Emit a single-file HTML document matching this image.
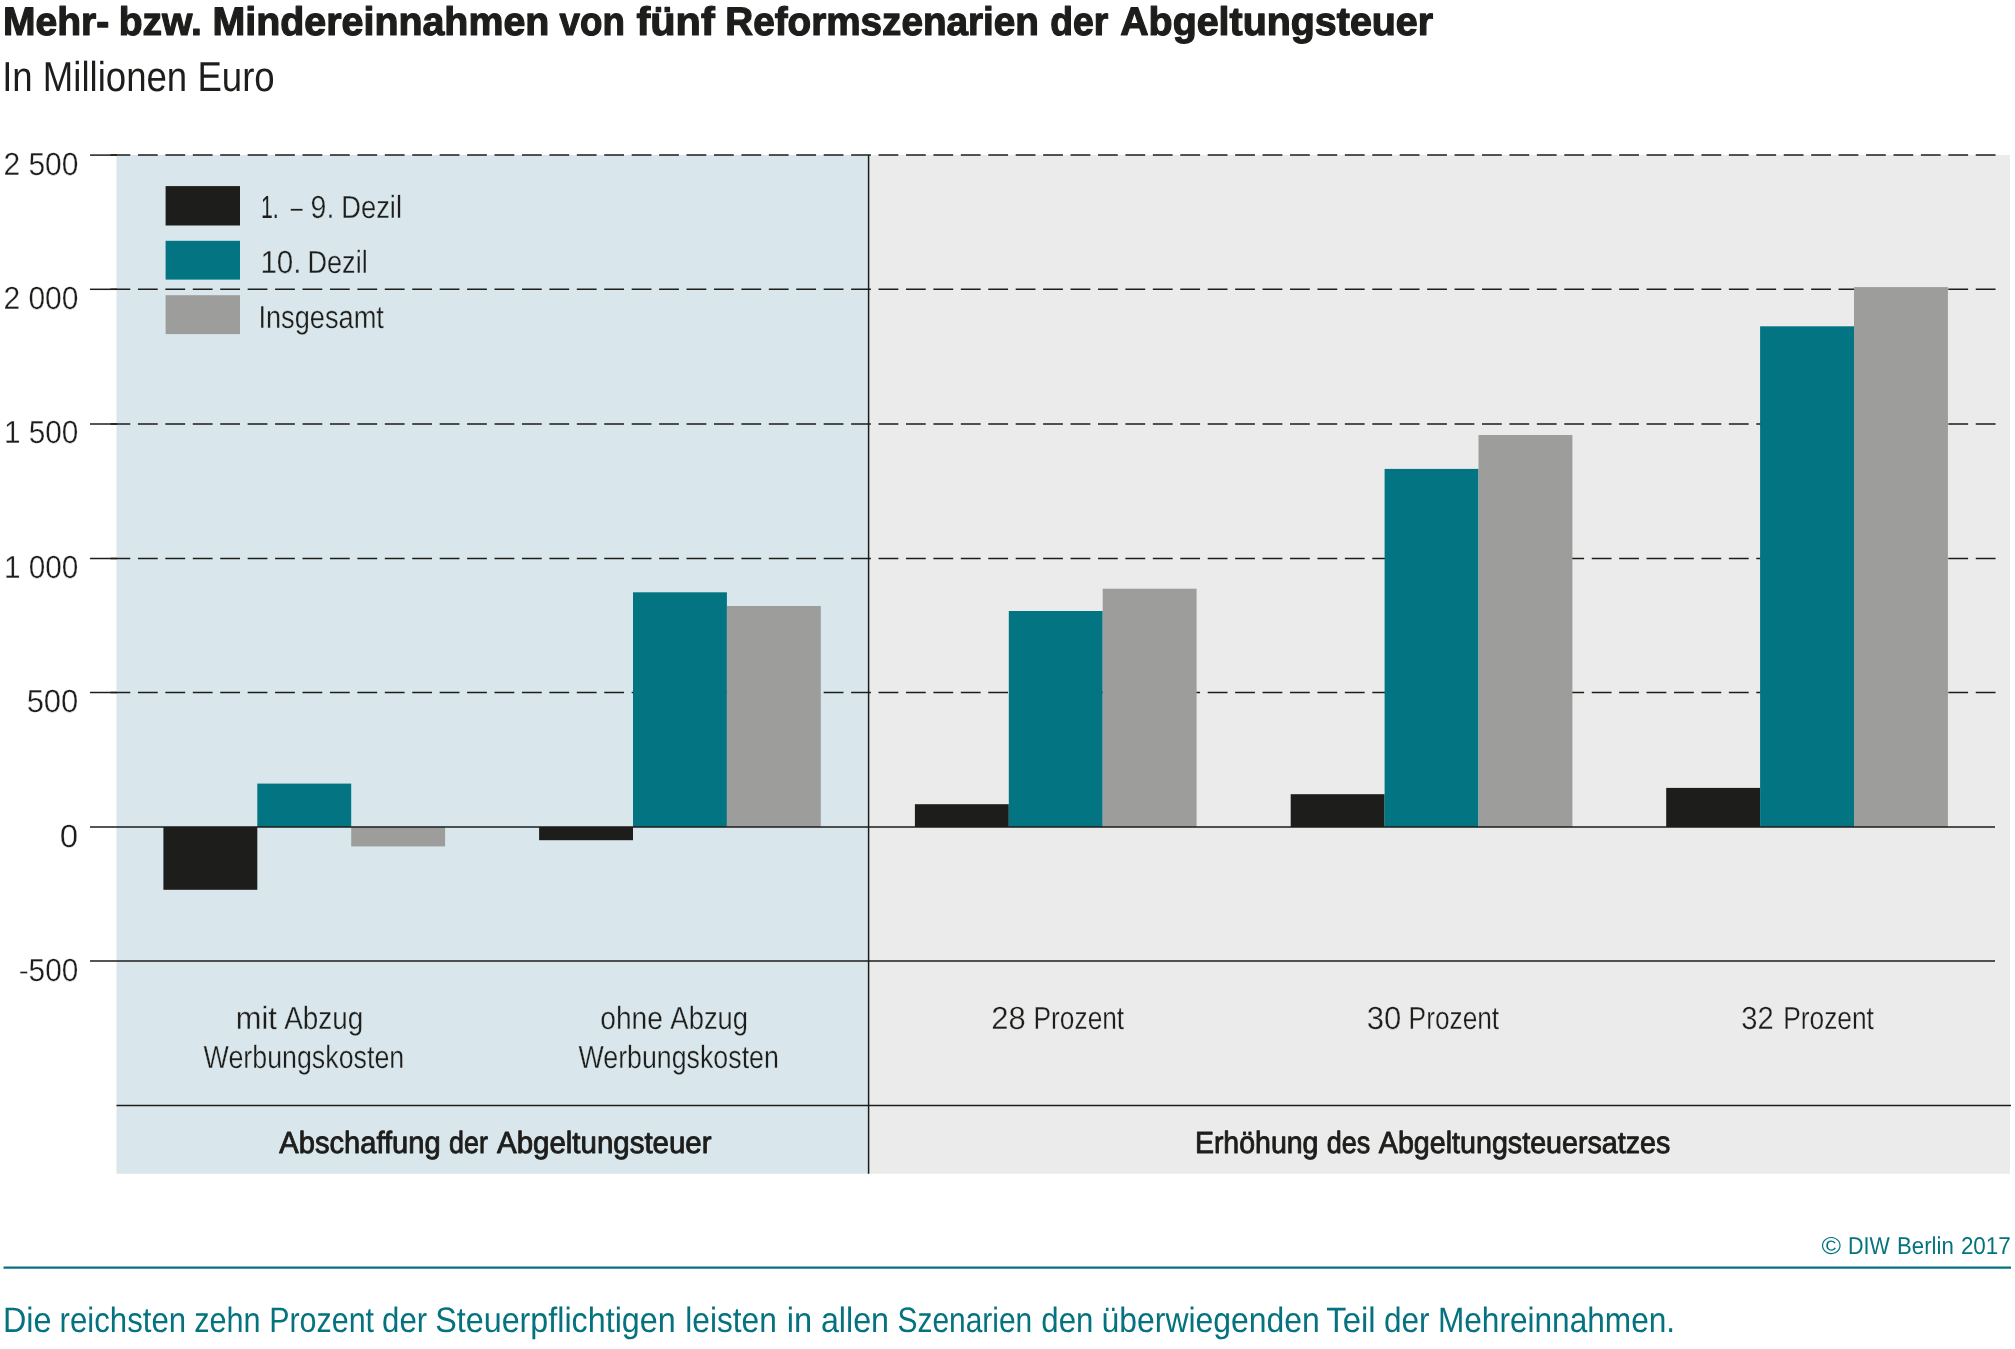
<!DOCTYPE html>
<html lang="de"><head><meta charset="utf-8"><title>Mehr- bzw. Mindereinnahmen von fünf Reformszenarien der Abgeltungsteuer</title>
<style>html,body{margin:0;padding:0;background:#fff}body{width:2015px;height:1349px;overflow:hidden}svg{display:block;will-change:transform;text-rendering:geometricPrecision}text{font-family:"Liberation Sans",sans-serif;fill:#1d1d1b;stroke-linejoin:round}.b{font-weight:bold}.t{fill:#05737f}</style></head><body>
<svg width="2015" height="1349" viewBox="0 0 2015 1349">
<rect x="0" y="0" width="2015" height="1349" fill="#fff"/>
<rect x="116.5" y="155" width="752" height="1018.8" fill="#d9e7ec"/>
<rect x="868.5" y="155" width="1141.5" height="1018.8" fill="#ebebeb"/>
<line x1="110.5" y1="155.1" x2="1996" y2="155.1" stroke="#1d1d1b" stroke-width="1.5" stroke-dasharray="19.8 7.63"/>
<line x1="90" y1="155.1" x2="117" y2="155.1" stroke="#1d1d1b" stroke-width="1.5"/>
<line x1="110.5" y1="289.3" x2="1996" y2="289.3" stroke="#1d1d1b" stroke-width="1.5" stroke-dasharray="19.8 7.63"/>
<line x1="90" y1="289.3" x2="117" y2="289.3" stroke="#1d1d1b" stroke-width="1.5"/>
<line x1="110.5" y1="424.0" x2="1996" y2="424.0" stroke="#1d1d1b" stroke-width="1.5" stroke-dasharray="19.8 7.63"/>
<line x1="90" y1="424.0" x2="117" y2="424.0" stroke="#1d1d1b" stroke-width="1.5"/>
<line x1="110.5" y1="558.5" x2="1996" y2="558.5" stroke="#1d1d1b" stroke-width="1.5" stroke-dasharray="19.8 7.63"/>
<line x1="90" y1="558.5" x2="117" y2="558.5" stroke="#1d1d1b" stroke-width="1.5"/>
<line x1="110.5" y1="692.5" x2="1996" y2="692.5" stroke="#1d1d1b" stroke-width="1.5" stroke-dasharray="19.8 7.63"/>
<line x1="90" y1="692.5" x2="117" y2="692.5" stroke="#1d1d1b" stroke-width="1.5"/>
<rect x="163.4" y="827.0" width="93.9" height="62.8" fill="#1d1d1b"/>
<rect x="257.3" y="783.6" width="93.9" height="43.4" fill="#037482"/>
<rect x="351.2" y="827.0" width="93.9" height="19.4" fill="#9d9d9c"/>
<rect x="539.1" y="827.0" width="93.9" height="13.2" fill="#1d1d1b"/>
<rect x="633.0" y="592.3" width="93.9" height="234.7" fill="#037482"/>
<rect x="726.9" y="606.0" width="93.9" height="221.0" fill="#9d9d9c"/>
<rect x="914.9" y="804.2" width="93.9" height="22.8" fill="#1d1d1b"/>
<rect x="1008.8" y="611.0" width="93.9" height="216.0" fill="#037482"/>
<rect x="1102.7" y="588.7" width="93.9" height="238.3" fill="#9d9d9c"/>
<rect x="1290.7" y="794.2" width="93.9" height="32.8" fill="#1d1d1b"/>
<rect x="1384.6" y="468.9" width="93.9" height="358.1" fill="#037482"/>
<rect x="1478.5" y="435.0" width="93.9" height="392.0" fill="#9d9d9c"/>
<rect x="1666.2" y="787.9" width="93.9" height="39.1" fill="#1d1d1b"/>
<rect x="1760.1" y="326.3" width="93.9" height="500.7" fill="#037482"/>
<rect x="1854.0" y="287.1" width="93.9" height="539.9" fill="#9d9d9c"/>
<line x1="90" y1="827" x2="1995" y2="827" stroke="#1d1d1b" stroke-width="1.5"/>
<line x1="90" y1="961" x2="1995" y2="961" stroke="#1d1d1b" stroke-width="1.5"/>
<line x1="116.5" y1="1105.5" x2="2011" y2="1105.5" stroke="#1d1d1b" stroke-width="1.5"/>
<line x1="868.6" y1="155" x2="868.6" y2="1173.8" stroke="#1d1d1b" stroke-width="1.5"/>
<rect x="165.6" y="186.1" width="74.4" height="39.4" fill="#1d1d1b"/>
<rect x="165.6" y="240.8" width="74.4" height="38.8" fill="#037482"/>
<rect x="165.6" y="295.2" width="74.4" height="38.9" fill="#9d9d9c"/>
<line x1="3.5" y1="1267.6" x2="2011" y2="1267.6" stroke="#05737f" stroke-width="2.4"/>
<text x="2.99" y="35.0" font-size="39.8" textLength="106.35" lengthAdjust="spacingAndGlyphs" class="b" stroke="#1d1d1b" stroke-width="1.20">Mehr-</text>
<text x="118.66" y="35.0" font-size="39.8" textLength="83.15" lengthAdjust="spacingAndGlyphs" class="b" stroke="#1d1d1b" stroke-width="1.20">bzw.</text>
<text x="212.55" y="35.0" font-size="39.8" textLength="336.80" lengthAdjust="spacingAndGlyphs" class="b" stroke="#1d1d1b" stroke-width="1.20">Mindereinnahmen</text>
<text x="559.57" y="35.0" font-size="39.8" textLength="65.32" lengthAdjust="spacingAndGlyphs" class="b" stroke="#1d1d1b" stroke-width="1.20">von</text>
<text x="636.51" y="35.0" font-size="39.8" textLength="78.25" lengthAdjust="spacingAndGlyphs" class="b" stroke="#1d1d1b" stroke-width="1.20">fünf</text>
<text x="725.32" y="35.0" font-size="39.8" textLength="313.61" lengthAdjust="spacingAndGlyphs" class="b" stroke="#1d1d1b" stroke-width="1.20">Reformszenarien</text>
<text x="1050.17" y="35.0" font-size="39.8" textLength="58.00" lengthAdjust="spacingAndGlyphs" class="b" stroke="#1d1d1b" stroke-width="1.20">der</text>
<text x="1120.13" y="35.0" font-size="39.8" textLength="312.98" lengthAdjust="spacingAndGlyphs" class="b" stroke="#1d1d1b" stroke-width="1.20">Abgeltungsteuer</text>
<text x="2.14" y="91.0" font-size="41.9" textLength="272.55" lengthAdjust="spacingAndGlyphs">In Millionen Euro</text>
<text x="3.38" y="175.0" font-size="32.0" textLength="75.03" lengthAdjust="spacingAndGlyphs" stroke="#fff" stroke-width="0.30">2 500</text>
<text x="3.38" y="309.0" font-size="32.0" textLength="75.03" lengthAdjust="spacingAndGlyphs" stroke="#fff" stroke-width="0.30">2 000</text>
<text x="3.89" y="443.0" font-size="32.0" textLength="74.44" lengthAdjust="spacingAndGlyphs" stroke="#fff" stroke-width="0.30">1 500</text>
<text x="3.89" y="578.0" font-size="32.0" textLength="74.44" lengthAdjust="spacingAndGlyphs" stroke="#fff" stroke-width="0.30">1 000</text>
<text x="26.64" y="712.0" font-size="32.0" textLength="51.73" lengthAdjust="spacingAndGlyphs" stroke="#fff" stroke-width="0.30">500</text>
<text x="59.86" y="847.0" font-size="32.0" textLength="18.41" lengthAdjust="spacingAndGlyphs" stroke="#fff" stroke-width="0.30">0</text>
<text x="18.71" y="981.0" font-size="32.0" textLength="59.57" lengthAdjust="spacingAndGlyphs" stroke="#fff" stroke-width="0.30">-500</text>
<text x="260.89" y="218.0" font-size="32.0" textLength="17.62" lengthAdjust="spacingAndGlyphs">1.</text>
<text x="290.66" y="218.0" font-size="32.0" textLength="11.97" lengthAdjust="spacingAndGlyphs" stroke="#d9e7ec" stroke-width="0.30">–</text>
<text x="310.55" y="218.0" font-size="32.0" textLength="23.76" lengthAdjust="spacingAndGlyphs" stroke="#d9e7ec" stroke-width="0.30">9.</text>
<text x="341.31" y="218.0" font-size="32.0" textLength="60.70" lengthAdjust="spacingAndGlyphs" stroke="#d9e7ec" stroke-width="0.30">Dezil</text>
<text x="260.38" y="273.0" font-size="32.0" textLength="41.15" lengthAdjust="spacingAndGlyphs" stroke="#d9e7ec" stroke-width="0.30">10.</text>
<text x="307.49" y="273.0" font-size="32.0" textLength="60.19" lengthAdjust="spacingAndGlyphs" stroke="#d9e7ec" stroke-width="0.30">Dezil</text>
<text x="258.43" y="328.0" font-size="32.0" textLength="125.41" lengthAdjust="spacingAndGlyphs" stroke="#d9e7ec" stroke-width="0.30">Insgesamt</text>
<text x="235.74" y="1029.0" font-size="32.0" textLength="41.14" lengthAdjust="spacingAndGlyphs" stroke="#d9e7ec" stroke-width="0.30">mit</text>
<text x="284.21" y="1029.0" font-size="32.0" textLength="79.12" lengthAdjust="spacingAndGlyphs" stroke="#d9e7ec" stroke-width="0.30">Abzug</text>
<text x="203.62" y="1068.0" font-size="32.0" textLength="200.57" lengthAdjust="spacingAndGlyphs" stroke="#d9e7ec" stroke-width="0.30">Werbungskosten</text>
<text x="600.22" y="1029.0" font-size="32.0" textLength="62.69" lengthAdjust="spacingAndGlyphs" stroke="#d9e7ec" stroke-width="0.30">ohne</text>
<text x="670.36" y="1029.0" font-size="32.0" textLength="77.71" lengthAdjust="spacingAndGlyphs" stroke="#d9e7ec" stroke-width="0.30">Abzug</text>
<text x="578.56" y="1068.0" font-size="32.0" textLength="200.27" lengthAdjust="spacingAndGlyphs" stroke="#d9e7ec" stroke-width="0.30">Werbungskosten</text>
<text x="991.37" y="1029.0" font-size="32.0" textLength="34.43" lengthAdjust="spacingAndGlyphs" stroke="#ebebeb" stroke-width="0.30">28</text>
<text x="1033.60" y="1029.0" font-size="32.0" textLength="90.56" lengthAdjust="spacingAndGlyphs" stroke="#ebebeb" stroke-width="0.30">Prozent</text>
<text x="1366.75" y="1029.0" font-size="32.0" textLength="34.53" lengthAdjust="spacingAndGlyphs" stroke="#ebebeb" stroke-width="0.30">30</text>
<text x="1408.62" y="1029.0" font-size="32.0" textLength="90.56" lengthAdjust="spacingAndGlyphs" stroke="#ebebeb" stroke-width="0.30">Prozent</text>
<text x="1741.37" y="1029.0" font-size="32.0" textLength="32.40" lengthAdjust="spacingAndGlyphs" stroke="#ebebeb" stroke-width="0.30">32</text>
<text x="1783.20" y="1029.0" font-size="32.0" textLength="90.75" lengthAdjust="spacingAndGlyphs" stroke="#ebebeb" stroke-width="0.30">Prozent</text>
<text x="279.36" y="1153.0" font-size="30.7" textLength="161.26" lengthAdjust="spacingAndGlyphs" stroke="#1d1d1b" stroke-width="0.90">Abschaffung</text>
<text x="449.10" y="1153.0" font-size="30.7" textLength="38.80" lengthAdjust="spacingAndGlyphs" stroke="#1d1d1b" stroke-width="0.90">der</text>
<text x="497.07" y="1153.0" font-size="30.7" textLength="214.46" lengthAdjust="spacingAndGlyphs" stroke="#1d1d1b" stroke-width="0.90">Abgeltungsteuer</text>
<text x="1194.89" y="1153.0" font-size="30.7" textLength="123.56" lengthAdjust="spacingAndGlyphs" stroke="#1d1d1b" stroke-width="0.90">Erhöhung</text>
<text x="1326.83" y="1153.0" font-size="30.7" textLength="43.53" lengthAdjust="spacingAndGlyphs" stroke="#1d1d1b" stroke-width="0.90">des</text>
<text x="1378.82" y="1153.0" font-size="30.7" textLength="291.52" lengthAdjust="spacingAndGlyphs" stroke="#1d1d1b" stroke-width="0.90">Abgeltungsteuersatzes</text>
<text x="1821.41" y="1254.0" font-size="24.4" textLength="19.57" lengthAdjust="spacingAndGlyphs" class="t">©</text>
<text x="1847.90" y="1254.0" font-size="24.4" textLength="41.77" lengthAdjust="spacingAndGlyphs" class="t">DIW</text>
<text x="1897.00" y="1254.0" font-size="24.4" textLength="56.73" lengthAdjust="spacingAndGlyphs" class="t">Berlin</text>
<text x="1960.89" y="1254.0" font-size="24.4" textLength="49.94" lengthAdjust="spacingAndGlyphs" class="t">2017</text>
<text x="2.91" y="1332.0" font-size="35.3" textLength="48.57" lengthAdjust="spacingAndGlyphs" class="t">Die</text>
<text x="59.61" y="1332.0" font-size="35.3" textLength="126.50" lengthAdjust="spacingAndGlyphs" class="t">reichsten</text>
<text x="194.14" y="1332.0" font-size="35.3" textLength="66.29" lengthAdjust="spacingAndGlyphs" class="t">zehn</text>
<text x="269.18" y="1332.0" font-size="35.3" textLength="104.83" lengthAdjust="spacingAndGlyphs" class="t">Prozent</text>
<text x="382.10" y="1332.0" font-size="35.3" textLength="45.05" lengthAdjust="spacingAndGlyphs" class="t">der</text>
<text x="435.24" y="1332.0" font-size="35.3" textLength="240.42" lengthAdjust="spacingAndGlyphs" class="t">Steuerpflichtigen</text>
<text x="685.31" y="1332.0" font-size="35.3" textLength="91.46" lengthAdjust="spacingAndGlyphs" class="t">leisten</text>
<text x="786.74" y="1332.0" font-size="35.3" textLength="25.40" lengthAdjust="spacingAndGlyphs" class="t">in</text>
<text x="820.91" y="1332.0" font-size="35.3" textLength="68.09" lengthAdjust="spacingAndGlyphs" class="t">allen</text>
<text x="897.47" y="1332.0" font-size="35.3" textLength="134.73" lengthAdjust="spacingAndGlyphs" class="t">Szenarien</text>
<text x="1041.30" y="1332.0" font-size="35.3" textLength="52.02" lengthAdjust="spacingAndGlyphs" class="t">den</text>
<text x="1101.62" y="1332.0" font-size="35.3" textLength="218.19" lengthAdjust="spacingAndGlyphs" class="t">überwiegenden</text>
<text x="1326.26" y="1332.0" font-size="35.3" textLength="49.43" lengthAdjust="spacingAndGlyphs" class="t">Teil</text>
<text x="1383.92" y="1332.0" font-size="35.3" textLength="45.53" lengthAdjust="spacingAndGlyphs" class="t">der</text>
<text x="1437.91" y="1332.0" font-size="35.3" textLength="237.22" lengthAdjust="spacingAndGlyphs" class="t">Mehreinnahmen.</text>
</svg></body></html>
